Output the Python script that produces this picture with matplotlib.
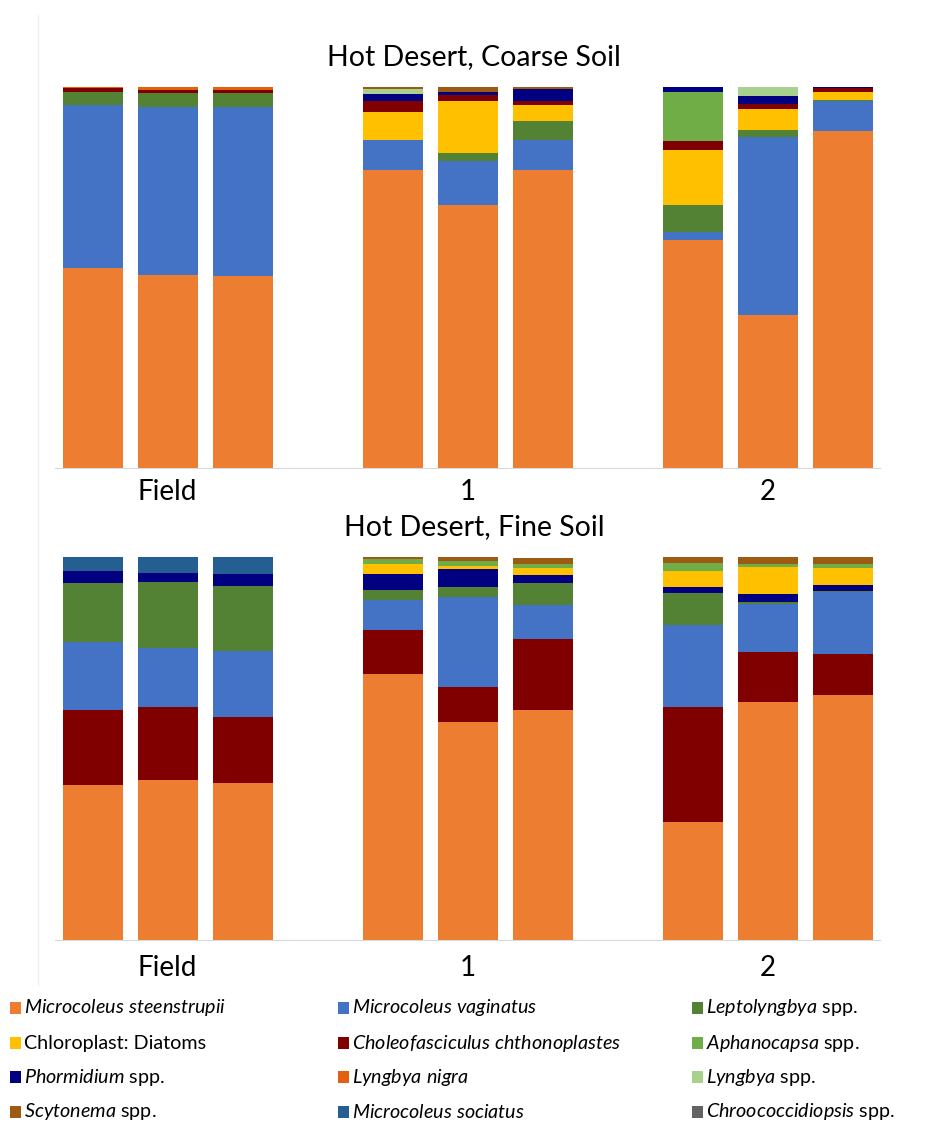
import matplotlib
matplotlib.use('Agg')
import matplotlib.pyplot as plt
from matplotlib.patches import Rectangle
from matplotlib.lines import Line2D

plt.rcParams['font.family'] = ['Lato', 'DejaVu Sans']
plt.rcParams['mathtext.fontset'] = 'custom'
plt.rcParams['mathtext.rm'] = 'Lato'
plt.rcParams['mathtext.it'] = 'Lato:italic'

# Relative abundance (%) of each taxon; 3 replicates per treatment
groups = ['Field', '1', '2']
slots = [0, 1, 2, 4, 5, 6, 8, 9, 10]

# Hot Desert, coarse soil
coarse_steenstrupii = [52.5, 50.7, 50.4, 78.2, 69.0, 78.2, 59.8, 40.2, 88.5]
coarse_vaginatus = [42.8, 44.1, 44.4, 7.9, 11.5, 7.9, 2.1, 46.7, 7.9]
coarse_leptolyngbya = [3.4, 3.7, 3.7, 0, 2.1, 5.0, 7.1, 1.8, 0.3]
coarse_diatoms = [0, 0, 0, 7.3, 13.6, 4.2, 14.4, 5.5, 2.1]
coarse_choleo = [1.0, 0.8, 0.8, 2.9, 1.6, 1.0, 2.4, 1.3, 1.0]
coarse_aphanocapsa = [0, 0, 0, 0, 0, 0, 12.9, 0, 0]
coarse_phormidium = [0, 0, 0, 1.8, 1.0, 3.1, 1.3, 2.1, 0.5]
coarse_lnigra = [0.5, 0.7, 0.8, 0, 0, 0, 0, 0, 0]
coarse_lyngbya = [0, 0, 0, 1.4, 0, 0, 0, 2.6, 0]
coarse_scytonema = [0, 0, 0, 0.7, 1.3, 0.8, 0, 0, 0]

# Hot Desert, fine soil
fine_steenstrupii = [40.5, 41.8, 41.0, 69.5, 56.9, 60.0, 30.8, 62.1, 64.0]
fine_choleo = [19.6, 19.1, 17.2, 11.5, 9.1, 18.5, 30.0, 13.1, 10.7]
fine_vaginatus = [17.8, 15.4, 17.2, 7.8, 23.5, 8.9, 21.4, 12.5, 16.2]
fine_leptolyngbya = [15.4, 17.2, 17.0, 2.6, 2.6, 5.7, 8.4, 0.5, 0.3]
fine_phormidium = [3.1, 2.3, 3.1, 4.2, 4.7, 2.3, 1.6, 2.1, 1.6]
fine_diatoms = [0, 0, 0, 2.6, 0.8, 1.8, 4.2, 7.0, 4.4]
fine_aphanocapsa = [0, 0, 0, 1.3, 1.3, 1.0, 2.1, 0.8, 1.0]
fine_scytonema = [0, 0, 0, 0.8, 1.0, 1.6, 1.6, 1.8, 1.8]
fine_sociatus = [3.7, 4.2, 4.4, 0, 0, 0, 0, 0, 0]

taxa = ['steenstrupii', 'vaginatus', 'leptolyngbya', 'diatoms', 'choleo',
        'aphanocapsa', 'phormidium', 'lnigra', 'lyngbya', 'scytonema',
        'sociatus', 'chroococcidiopsis']
labels = [r'$\it{Microcoleus\ steenstrupii}$', r'$\it{Microcoleus\ vaginatus}$',
          r'$\it{Leptolyngbya}$ spp.', 'Chloroplast: Diatoms',
          r'$\it{Choleofasciculus\ chthonoplastes}$', r'$\it{Aphanocapsa}$ spp.',
          r'$\it{Phormidium}$ spp.', r'$\it{Lyngbya\ nigra}$',
          r'$\it{Lyngbya}$ spp.', r'$\it{Scytonema}$ spp.',
          r'$\it{Microcoleus\ sociatus}$', r'$\it{Chroococcidiopsis}$ spp.']
colors = {'steenstrupii': '#ED7D31', 'vaginatus': '#4472C4',
          'leptolyngbya': '#548235', 'diatoms': '#FFC000',
          'choleo': '#800000', 'aphanocapsa': '#70AD47',
          'phormidium': '#000080', 'lnigra': '#E2600F',
          'lyngbya': '#A9D18E', 'scytonema': '#9C5A12',
          'sociatus': '#255E91', 'chroococcidiopsis': '#636363'}

coarse_stack = [('steenstrupii', coarse_steenstrupii), ('vaginatus', coarse_vaginatus),
                ('leptolyngbya', coarse_leptolyngbya), ('diatoms', coarse_diatoms),
                ('choleo', coarse_choleo), ('aphanocapsa', coarse_aphanocapsa),
                ('phormidium', coarse_phormidium), ('lnigra', coarse_lnigra),
                ('lyngbya', coarse_lyngbya), ('scytonema', coarse_scytonema)]
fine_stack = [('steenstrupii', fine_steenstrupii), ('choleo', fine_choleo),
              ('vaginatus', fine_vaginatus), ('leptolyngbya', fine_leptolyngbya),
              ('phormidium', fine_phormidium), ('diatoms', fine_diatoms),
              ('aphanocapsa', fine_aphanocapsa), ('scytonema', fine_scytonema),
              ('sociatus', fine_sociatus)]

W, H = 951, 1128
fig = plt.figure(figsize=(W / 100, H / 100), dpi=100)


def px_axes(x0, y0, x1, y1):
    return fig.add_axes([x0 / W, 1 - y1 / H, (x1 - x0) / W, (y1 - y0) / H])


def draw_panel(ax, stack, title, title_y, label_offset):
    bottoms = [0.0] * len(slots)
    for key, vals in stack:
        ax.bar(slots, vals, width=0.8, bottom=bottoms, color=colors[key],
               linewidth=0)
        bottoms = [b + v for b, v in zip(bottoms, vals)]
    ax.set_xlim(-0.5, 10.5)
    ax.set_ylim(0, 100)
    for s in ['top', 'right', 'left']:
        ax.spines[s].set_visible(False)
    ax.spines['bottom'].set_color('#D9D9D9')
    ax.set_xticks([])
    ax.set_yticks([])
    ax.patch.set_visible(False)
    for i, g in enumerate(groups):
        ax.text(1 + 4 * i, -label_offset, g, ha='center', va='center',
                fontsize=20, transform=ax.get_xaxis_transform(), color='#000000')
    fig.text(474 / W, 1 - title_y / H, title, ha='center', va='center',
             fontsize=20.5)


ax1 = px_axes(55, 87, 880, 468)
draw_panel(ax1, coarse_stack, 'Hot Desert, Coarse Soil', 57, 0.063)
ax2 = px_axes(55, 557, 880, 940)
draw_panel(ax2, fine_stack, 'Hot Desert, Fine Soil', 527, 0.073)

# faint frame line at the left
fig.add_artist(Line2D([38 / W, 38 / W], [1 - 15 / H, 1 - 985 / H],
                      color='#F0F0F0', linewidth=1))

# legend: 4 rows x 3 columns
col_x = [10, 338, 692]
row_y = [1008, 1043, 1077, 1112]
for i, key in enumerate(taxa):
    r, c = divmod(i, 3)
    x, y = col_x[c], row_y[r]
    fig.add_artist(Rectangle((x / W, 1 - (y + 6) / H), 11 / W, 12 / H,
                             facecolor=colors[key], edgecolor='none'))
    fig.text((x + 14) / W, 1 - y / H, labels[i], ha='left', va='center',
             fontsize=14.2)

fig.savefig('out.png', dpi=100)
